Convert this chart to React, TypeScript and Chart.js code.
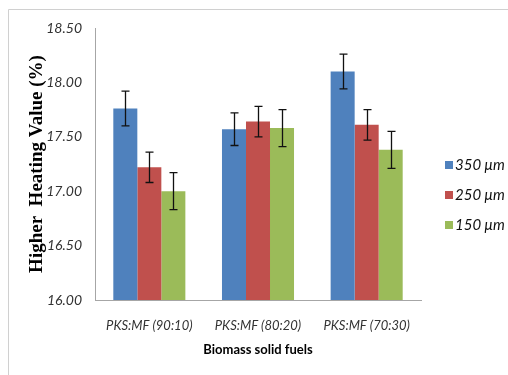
import React, { useEffect, useRef } from "react";
import { Chart, registerables } from "chart.js";

Chart.register(...registerables);

const categories = ["PKS:MF (90:10)", "PKS:MF (80:20)", "PKS:MF (70:30)"];
const seriesLabels = ["350 μm", "250 μm", "150 μm"];
const values350 = [17.76, 17.57, 18.1];
const values250 = [17.22, 17.64, 17.61];
const values150 = [17.0, 17.58, 17.38];
const err350 = [0.16, 0.15, 0.16];
const err250 = [0.14, 0.14, 0.14];
const err150 = [0.17, 0.17, 0.17];
const yMin = 16;
const yMax = 18.5;
const yStep = 0.5;

const colors = ["#4F81BD", "#C0504D", "#9BBB59"];
const errors = [err350, err250, err150];

const frame = {
  id: "frame",
  beforeDraw(chart: any) {
    const ctx = chart.ctx;
    ctx.save();
    ctx.fillStyle = "#ffffff";
    ctx.fillRect(0, 0, chart.width, chart.height);
    ctx.strokeStyle = "#d0d0d0";
    ctx.lineWidth = 1;
    ctx.beginPath();
    ctx.moveTo(8.5, chart.height);
    ctx.lineTo(8.5, 9.5);
    ctx.lineTo(chart.width, 9.5);
    ctx.stroke();
    ctx.restore();
  },
};

const errorBars = {
  id: "errorBars",
  afterDatasetsDraw(chart: any) {
    const ctx = chart.ctx;
    const yScale = chart.scales.y;
    ctx.save();
    ctx.strokeStyle = "#111";
    ctx.lineWidth = 1.3;
    chart.data.datasets.forEach((ds: any, di: number) => {
      const meta = chart.getDatasetMeta(di);
      meta.data.forEach((bar: any, i: number) => {
        const v = ds.data[i];
        const e = errors[di][i];
        const x = Math.round(bar.x) + 0.5;
        const yt = yScale.getPixelForValue(v + e);
        const yb = yScale.getPixelForValue(v - e);
        ctx.beginPath();
        ctx.moveTo(x, yt);
        ctx.lineTo(x, yb);
        ctx.moveTo(x - 4, yt);
        ctx.lineTo(x + 4, yt);
        ctx.moveTo(x - 4, yb);
        ctx.lineTo(x + 4, yb);
        ctx.stroke();
      });
    });
    ctx.restore();
  },
};

const sideLegend = {
  id: "sideLegend",
  afterDraw(chart: any) {
    const ctx = chart.ctx;
    ctx.save();
    ctx.font = "italic 15px Lato";
    ctx.textBaseline = "middle";
    ctx.textAlign = "left";
    chart.data.datasets.forEach((ds: any, i: number) => {
      const y = 165 + i * 30;
      ctx.fillStyle = ds.backgroundColor;
      ctx.fillRect(445, y - 4, 8, 8);
      ctx.fillStyle = "#111";
      ctx.fillText(ds.label, 455, y);
    });
    ctx.restore();
  },
};

export default function App() {
  const ref = useRef<HTMLCanvasElement>(null);
  useEffect(() => {
    if (!ref.current) return;
    const chart = new Chart(ref.current, {
      type: "bar",
      data: {
        labels: categories,
        datasets: [values350, values250, values150].map((d, i) => ({
          label: seriesLabels[i],
          data: d,
          backgroundColor: colors[i],
          borderWidth: 0,
          categoryPercentage: 0.663,
          barPercentage: 1,
        })),
      },
      options: {
        responsive: false,
        animation: false,
        devicePixelRatio: 1,
        layout: { padding: { left: 0, top: 28, right: 87, bottom: 0 } },
        plugins: { legend: { display: false }, tooltip: { enabled: false } },
        scales: {
          x: {
            grid: { display: false, drawTicks: false },
            border: { color: "#a6a6a6", width: 1 },
            ticks: {
              padding: 18,
              color: "#333",
              font: { family: "Lato", style: "italic", size: 13 },
            },
            title: {
              display: true,
              text: "Biomass solid fuels",
              color: "#000",
              font: { family: "Lato", weight: "bold", size: 13 },
              padding: { top: 0, bottom: 17 },
            },
            afterFit(scale: any) {
              scale.height = 75;
            },
          },
          y: {
            min: yMin,
            max: yMax,
            grid: { display: false, drawTicks: false },
            border: { color: "#a6a6a6", width: 1 },
            ticks: {
              stepSize: yStep,
              padding: 13,
              color: "#333",
              font: { family: "Lato", style: "italic", size: 14 },
              callback: (v: any) => Number(v).toFixed(2),
            },
            title: {
              display: true,
              text: "Higher  Heating Value (%)",
              color: "#000",
              font: { family: "Liberation Serif", weight: "bold", size: 19 },
              padding: { top: 26, bottom: 0 },
            },
            afterFit(scale: any) {
              scale.width = 95;
            },
          },
        },
      },
      plugins: [frame, errorBars, sideLegend],
    });
    return () => chart.destroy();
  }, []);
  return (
    <div style={{ position: "fixed", left: 0, top: 0, width: 508, height: 375 }}>
      <canvas ref={ref} width={508} height={375} />
    </div>
  );
}
